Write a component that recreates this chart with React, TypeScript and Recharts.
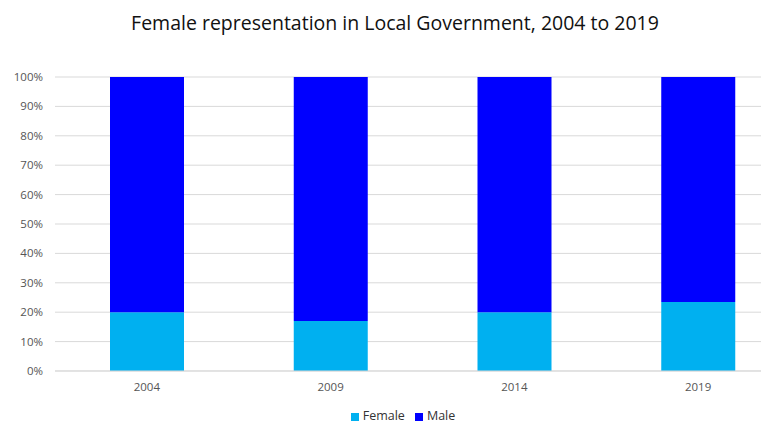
import { BarChart, Bar, XAxis, YAxis, CartesianGrid, Legend } from 'recharts';

const years = ['2004', '2009', '2014', '2019'];
const femaleShare = [20, 17, 20, 23.5];
const maleShare = [80, 83, 80, 76.5];
const percentTicks = [0, 10, 20, 30, 40, 50, 60, 70, 80, 90, 100];

const data = years.map((year, i) => ({
  year,
  Female: femaleShare[i],
  Male: maleShare[i]
}));

const tickStyle = { fill: '#555', fontSize: 11.5, fontFamily: 'Open Sans' };

const App = () => (
  <div style={{ position: 'absolute', left: 0, top: 0, width: 778, height: 447, background: '#fff' }}>
    <div
      style={{
        position: 'absolute',
        top: 9,
        left: 0,
        width: 790,
        textAlign: 'center',
        fontFamily: 'Open Sans',
        fontSize: 19.5,
        color: '#111'
      }}
    >
      Female representation in Local Government, 2004 to 2019
    </div>
    <BarChart
      width={778}
      height={447}
      data={data}
      margin={{ top: 77, right: 17, bottom: 0, left: 5 }}
    >
      <CartesianGrid vertical={false} stroke="#d9d9d9" />
      <XAxis
        dataKey="year"
        height={76}
        tickLine={false}
        axisLine={{ stroke: '#d9d9d9' }}
        tickSize={0}
        tickMargin={12}
        tick={tickStyle}
        padding={{ left: 0, right: -29 }}
      />
      <YAxis
        width={50}
        domain={[0, 100]}
        ticks={percentTicks}
        tickFormatter={(v) => `${v}%`}
        tickLine={false}
        axisLine={false}
        tickSize={0}
        tickMargin={12}
        tick={tickStyle}
      />
      <Legend
        verticalAlign="middle"
        align="center"
        iconType="square"
        iconSize={8}
        wrapperStyle={{ top: 407, left: 30, fontFamily: 'Open Sans', fontSize: 12.5 }}
        formatter={(value) => <span style={{ color: '#333' }}>{value}</span>}
      />
      <Bar dataKey="Female" stackId="a" fill="#00b0f0" barSize={74} isAnimationActive={false} />
      <Bar dataKey="Male" stackId="a" fill="#0000ff" barSize={74} isAnimationActive={false} />
    </BarChart>
  </div>
);

export default App;
